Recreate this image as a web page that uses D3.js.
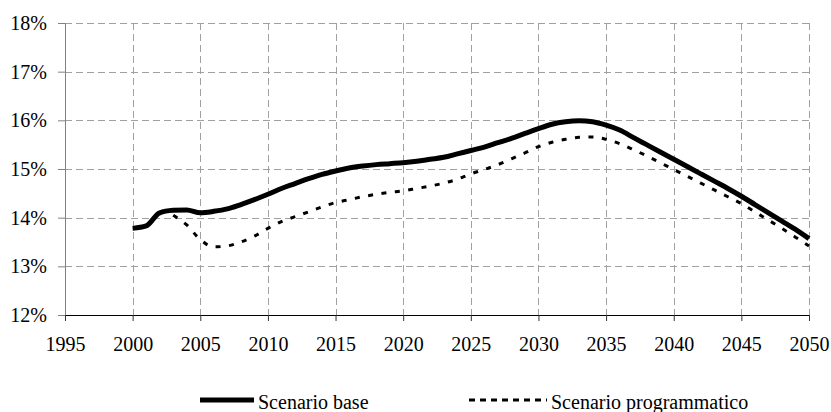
<!DOCTYPE html>
<html>
<head>
<meta charset="utf-8">
<title>Scenari</title>
<script src="https://d3js.org/d3.v7.min.js"></script>
<style>
  body { margin: 0; background: #fff; }
  .grid line { stroke: #a0a0a0; stroke-width: 1; stroke-dasharray: 7,4; }
</style>
</head>
<body>
<div class="chart" id="chart"></div>
<script>
// anni e valori (%)
var years = d3.range(2000, 2051);
var base = [13.78, 13.83, 14.10, 14.15, 14.16, 14.10, 14.13, 14.18, 14.27, 14.37,
            14.48, 14.60, 14.70, 14.80, 14.89, 14.96, 15.02, 15.06, 15.09, 15.11,
            15.13, 15.16, 15.20, 15.24, 15.31, 15.38, 15.45, 15.54, 15.63, 15.73,
            15.83, 15.92, 15.97, 15.99, 15.97, 15.90, 15.80, 15.65, 15.50, 15.35,
            15.20, 15.05, 14.90, 14.75, 14.60, 14.44, 14.27, 14.10, 13.93, 13.76,
            13.57];
var progYears = d3.range(2003, 2051);
var prog = [14.05, 13.85, 13.55, 13.40, 13.42, 13.50, 13.62, 13.78,
            13.92, 14.02, 14.12, 14.22, 14.31, 14.37, 14.43, 14.48, 14.52,
            14.55, 14.60, 14.65, 14.71, 14.79, 14.90, 14.99, 15.09, 15.21, 15.33,
            15.46, 15.55, 15.61, 15.65, 15.66, 15.61, 15.52, 15.40, 15.27, 15.13,
            14.99, 14.85, 14.71, 14.57, 14.43, 14.29, 14.12, 13.95, 13.78, 13.60,
            13.42];
var xTicks = d3.range(1995, 2051, 5);
var yTicks = [12, 13, 14, 15, 16, 17, 18];

var W = 831, H = 412;
var margin = {top: 23, right: 22, bottom: 97, left: 65};
var width = W - margin.left - margin.right,
    height = H - margin.top - margin.bottom;
var FONT = "Liberation Serif";

var svg = d3.select("#chart").append("svg")
    .attr("width", W).attr("height", H);
var g = svg.append("g").attr("transform", "translate(" + margin.left + "," + margin.top + ")");

var x = d3.scaleLinear().domain([1995, 2050]).range([0, width]);
var y = d3.scaleLinear().domain([12, 18]).range([height, 0]);

// griglia
var grid = g.append("g").attr("class", "grid");
grid.selectAll(".gx").data(xTicks.slice(1)).enter().append("line")
    .attr("x1", function(d) { return Math.round(x(d)) + 0.5; })
    .attr("x2", function(d) { return Math.round(x(d)) + 0.5; })
    .attr("y1", 0).attr("y2", height);
grid.selectAll(".gy").data(yTicks.slice(1)).enter().append("line")
    .attr("y1", function(d) { return Math.round(y(d)) + 0.5; })
    .attr("y2", function(d) { return Math.round(y(d)) + 0.5; })
    .attr("x1", 0).attr("x2", width);

// assi
var yAxis = g.append("g")
    .call(d3.axisLeft(y).tickValues(yTicks).tickSize(7).tickPadding(11)
      .tickFormat(function(d) { return d + "%"; }));
yAxis.select(".domain").attr("stroke", "#808080");
yAxis.selectAll(".tick line").attr("stroke", "#808080");

var xAxis = g.append("g").attr("transform", "translate(0," + height + ")")
    .call(d3.axisBottom(x).tickValues(xTicks).tickSize(6).tickPadding(16)
      .tickFormat(d3.format("d")));
xAxis.select(".domain").attr("stroke", "#000");
xAxis.selectAll(".tick line").attr("stroke", "#333");
svg.selectAll(".tick text").attr("font-family", FONT).attr("font-size", 20).attr("fill", "#000");
yAxis.attr("font-family", FONT).attr("font-size", 20);
xAxis.attr("font-family", FONT).attr("font-size", 20);

var line = d3.line().x(function(d) { return x(d[0]); }).y(function(d) { return y(d[1]); })
    .curve(d3.curveMonotoneX);

g.append("path").datum(d3.zip(progYears, prog))
    .attr("fill", "none").attr("stroke", "#000").attr("stroke-width", 3)
    .attr("stroke-dasharray", "5,8.5")
    .attr("d", line);
g.append("path").datum(d3.zip(years, base))
    .attr("fill", "none").attr("stroke", "#000").attr("stroke-width", 5)
    .attr("stroke-linejoin", "round")
    .attr("d", line);

// legenda
var items = [
  {name: "Scenario base", x: 200, len: 54, w: 5, dash: null},
  {name: "Scenario programmatico", x: 469, len: 78, w: 3, dash: "6,5"}
];
items.forEach(function(it) {
  svg.append("line")
    .attr("x1", it.x).attr("x2", it.x + it.len)
    .attr("y1", 400).attr("y2", 400)
    .attr("stroke", "#000").attr("stroke-width", it.w)
    .attr("stroke-dasharray", it.dash);
  svg.append("text")
    .attr("x", it.x + it.len + 4).attr("y", 409)
    .attr("font-family", FONT).attr("font-size", 20)
    .text(it.name);
});
</script>
</body>
</html>
